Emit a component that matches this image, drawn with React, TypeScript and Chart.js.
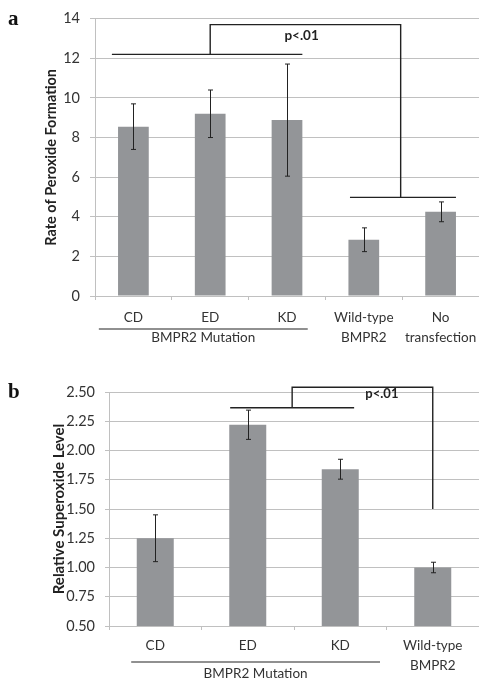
import React, { useEffect, useRef } from "react";
import { Chart, registerables } from "chart.js";

Chart.register(...registerables);

// ---------- Panel a data ----------
const categoriesA: string[][] = [["CD"], ["ED"], ["KD"], ["Wild-type", "BMPR2"], ["No", "transfection"]];
const valuesA: number[] = [8.55, 9.2, 8.88, 2.84, 4.25];
const errorsA: number[] = [1.15, 1.2, 2.83, 0.6, 0.5];
const yTicksA = { min: 0, max: 14, step: 2 };
const yTitleA = "Rate of Peroxide Formation";
const groupLabelA = "BMPR2 Mutation";
const sigLabelA = "p<.01";

// ---------- Panel b data ----------
const categoriesB: string[][] = [["CD"], ["ED"], ["KD"], ["Wild-type", "BMPR2"]];
const valuesB: number[] = [1.25, 2.22, 1.84, 1.0];
const errorsB: number[] = [0.2, 0.125, 0.085, 0.045];
const yTicksB = { min: 0.5, max: 2.5, step: 0.25 };
const yTitleB = "Relative Superoxide Level";
const groupLabelB = "BMPR2 Mutation";
const sigLabelB = "p<.01";

const BAR = "#939598";
const GRID = "#c0c0c0";
const TEXT = "#333333";
const INK = "#222222";
const FONT = "Lato, 'Open Sans', sans-serif";

type Bracket = {
  path: [number, number][][];
  sig: { i: number; v: number; size: number };
};

type PanelProps = {
  top: number;
  height: number;
  cats: string[][];
  vals: number[];
  errs: number[];
  yt: { min: number; max: number; step: number };
  decimals: number;
  padTop: number;
  axisLeft: number;
  xAxisH: number;
  yTickLen: number;
  xPad: number;
  title: string;
  titleX: number;
  titleSize: number;
  letter: string;
  letterY: number;
  group: { label: string; from: number; to: number; lineOff: number; textOff: number };
  sig: string;
  bracket: Bracket;
};

function Panel(p: PanelProps) {
  const ref = useRef<HTMLCanvasElement | null>(null);
  useEffect(() => {
    const canvas = ref.current;
    if (!canvas) return;
    const annot = {
      id: "annot" + p.letter,
      afterDatasetsDraw(chart: any) {
        const ctx = chart.ctx;
        const y = chart.scales.y;
        const meta = chart.getDatasetMeta(0);
        ctx.save();
        ctx.strokeStyle = INK;
        ctx.lineWidth = 1;
        meta.data.forEach((el: any, i: number) => {
          const cx = Math.round(el.x) + 0.5;
          const hi = y.getPixelForValue(p.vals[i] + p.errs[i]);
          const lo = y.getPixelForValue(p.vals[i] - p.errs[i]);
          ctx.beginPath();
          ctx.moveTo(cx, hi);
          ctx.lineTo(cx, lo);
          ctx.moveTo(cx - 2.5, hi);
          ctx.lineTo(cx + 2.5, hi);
          ctx.moveTo(cx - 2.5, lo);
          ctx.lineTo(cx + 2.5, lo);
          ctx.stroke();
        });
        ctx.restore();
      },
      afterDraw(chart: any) {
        const ctx = chart.ctx;
        const x = chart.scales.x;
        const y = chart.scales.y;
        const cw = x.getPixelForValue(1) - x.getPixelForValue(0);
        const px = (i: number) => x.getPixelForValue(0) + i * cw;
        ctx.save();
        ctx.strokeStyle = INK;
        ctx.lineWidth = 1.4;
        p.bracket.path.forEach((seg) => {
          ctx.beginPath();
          seg.forEach(([i, v], k) => {
            const X = px(i);
            const Y = y.getPixelForValue(v);
            if (k === 0) ctx.moveTo(X, Y);
            else ctx.lineTo(X, Y);
          });
          ctx.stroke();
        });
        ctx.fillStyle = INK;
        ctx.font = `bold ${p.bracket.sig.size}px ${FONT}`;
        ctx.textAlign = "center";
        ctx.textBaseline = "middle";
        ctx.fillText(p.sig, px(p.bracket.sig.i), y.getPixelForValue(p.bracket.sig.v));
        const bottom = chart.chartArea.bottom;
        ctx.lineWidth = 1.2;
        ctx.beginPath();
        ctx.moveTo(px(p.group.from), bottom + p.group.lineOff);
        ctx.lineTo(px(p.group.to), bottom + p.group.lineOff);
        ctx.stroke();
        ctx.fillStyle = TEXT;
        ctx.font = `13.5px ${FONT}`;
        ctx.fillText(p.group.label, (px(p.group.from) + px(p.group.to)) / 2, bottom + p.group.textOff);
        const ca = chart.chartArea;
        ctx.save();
        ctx.translate(p.titleX, (ca.top + ca.bottom) / 2);
        ctx.rotate(-Math.PI / 2);
        ctx.fillStyle = INK;
        ctx.font = `bold ${p.titleSize}px ${FONT}`;
        ctx.fillText(p.title, 0, 0);
        ctx.restore();
        ctx.fillStyle = "#111";
        ctx.font = `bold 21px 'Liberation Serif', serif`;
        ctx.textAlign = "left";
        ctx.textBaseline = "alphabetic";
        ctx.fillText(p.letter, 8, p.letterY);
        ctx.restore();
      },
    };
    const chart = new Chart(canvas, {
      type: "bar",
      data: {
        labels: p.cats,
        datasets: [
          {
            data: p.vals,
            backgroundColor: BAR,
            borderWidth: 0,
            categoryPercentage: 1,
            barPercentage: 0.4,
          },
        ],
      },
      options: {
        animation: false,
        responsive: false,
        devicePixelRatio: 1,
        layout: { padding: { top: p.padTop, right: 21, left: 0, bottom: 0 } },
        plugins: { legend: { display: false }, tooltip: { enabled: false } },
        scales: {
          x: {
            offset: true,
            grid: { display: true, drawOnChartArea: false, drawTicks: true, tickLength: 4, color: GRID, offset: true },
            border: { display: true, color: GRID, width: 1 },
            ticks: {
              color: TEXT,
              font: { family: FONT, size: 13.5, lineHeight: "20px" } as any,
              padding: p.xPad,
              maxRotation: 0,
              autoSkip: false,
            },
            afterFit: (s: any) => {
              s.height = p.xAxisH;
            },
          },
          y: {
            min: p.yt.min,
            max: p.yt.max,
            grid: { color: GRID, lineWidth: 1, tickLength: p.yTickLen, drawTicks: true },
            border: { display: true, color: GRID, width: 1 },
            ticks: {
              stepSize: p.yt.step,
              color: TEXT,
              font: { family: FONT, size: 14.5 },
              padding: 10,
              callback: (v: any) => Number(v).toFixed(p.decimals),
            },
            afterFit: (s: any) => {
              s.width = p.axisLeft;
            },
          },
        },
      },
      plugins: [annot],
    });
    return () => chart.destroy();
  }, []);
  return (
    <canvas
      ref={ref}
      width={500}
      height={p.height}
      style={{ position: "absolute", left: 0, top: p.top, width: 500, height: p.height }}
    />
  );
}

export default function App() {
  return (
    <div
      style={{
        position: "fixed",
        left: 0,
        top: 0,
        width: 479,
        height: 681,
        overflow: "hidden",
        background: "#fff",
      }}
    >
      <Panel
        top={0}
        height={350}
        cats={categoriesA}
        vals={valuesA}
        errs={errorsA}
        yt={yTicksA}
        decimals={0}
        padTop={17}
        axisLeft={95}
        xAxisH={54}
        yTickLen={5}
        xPad={8}
        title={yTitleA}
        titleX={51}
        titleSize={14.5}
        letter="a"
        letterY={25}
        group={{ label: groupLabelA, from: -0.45, to: 2.27, lineOff: 33, textOff: 42 }}
        sig={sigLabelA}
        bracket={{
          path: [
            [[-0.28, 12.2], [2.2, 12.2]],
            [[1, 12.2], [1, 13.7], [3.48, 13.7], [3.48, 4.98]],
            [[2.82, 4.98], [4.2, 4.98]],
          ],
          sig: { i: 2.19, v: 13.15, size: 13.5 },
        }}
      />
      <Panel
        top={345}
        height={336}
        cats={categoriesB}
        vals={valuesB}
        errs={errorsB}
        yt={yTicksB}
        decimals={2}
        padTop={47}
        axisLeft={109}
        xAxisH={55}
        yTickLen={4}
        xPad={6}
        title={yTitleB}
        titleX={59}
        titleSize={15}
        letter="b"
        letterY={53}
        group={{ label: groupLabelB, from: -0.26, to: 2.43, lineOff: 36, textOff: 48 }}
        sig={sigLabelB}
        bracket={{
          path: [
            [[0.81, 2.366], [2.15, 2.366]],
            [[1.48, 2.366], [1.48, 2.54], [3.0, 2.54], [3.0, 1.5]],
          ],
          sig: { i: 2.45, v: 2.486, size: 13 },
        }}
      />
    </div>
  );
}
